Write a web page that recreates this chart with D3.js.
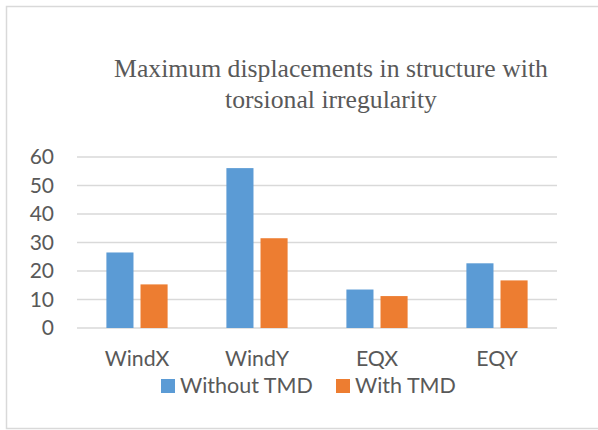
<!DOCTYPE html>
<html>
<head>
<meta charset="utf-8">
<script src="https://cdn.jsdelivr.net/npm/d3@7"></script>
<style>
  body { margin: 0; background: #fff; }
  text { fill: #595959; }
</style>
</head>
<body>
<div id="chart"></div>
<script>
// data
let categories = ["WindX", "WindY", "EQX", "EQY"];
let seriesNames = ["Without TMD", "With TMD"];
let withoutTMD = [26.5, 56.1, 13.5, 22.7];
let withTMD = [15.3, 31.5, 11.2, 16.7];
let yTicks = [0, 10, 20, 30, 40, 50, 60];
let colors = ["#5b9bd5", "#ed7d31"];

let W = 598, H = 430;
let margin = {top: 157, right: 41, bottom: 102, left: 77},
    width = W - margin.left - margin.right,
    height = H - margin.top - margin.bottom;

let root = d3.select("#chart").append("svg")
    .attr("width", W)
    .attr("height", H);

// chart area border
root.append("rect")
    .attr("x", 6.5).attr("y", 6.5)
    .attr("width", 600).attr("height", 422)
    .attr("fill", "#fff")
    .attr("stroke", "#d9d9d9")
    .attr("stroke-width", 1.5);

root.append("text")
    .attr("text-anchor", "middle")
    .attr("font-family", "Liberation Serif, Times New Roman, serif")
    .attr("font-size", 25.7)
    .selectAll("tspan")
    .data(["Maximum displacements in structure with", "torsional irregularity"])
    .enter().append("tspan")
    .attr("x", 331)
    .attr("y", function (d, i) { return 77 + i * 31; })
    .text(function (d) { return d; });

let svg = root.append("g")
    .attr("transform", "translate(" + margin.left + "," + margin.top + ")");

let x0 = d3.scaleBand()
    .domain(categories)
    .range([0, width])
    .paddingInner(0.49)
    .paddingOuter(0.245);

let x1 = d3.scaleBand()
    .domain(seriesNames)
    .range([0, x0.bandwidth()])
    .paddingInner(0.206);

let y = d3.scaleLinear()
    .domain([0, 60])
    .range([height, 0]);

// gridlines
svg.append("g")
    .selectAll("line")
    .data(yTicks)
    .enter().append("line")
    .attr("x1", 0).attr("x2", width)
    .attr("y1", function (d) { return y(d); })
    .attr("y2", function (d) { return y(d); })
    .attr("stroke", "#d9d9d9")
    .attr("stroke-width", 1.5);

let yAxis = d3.axisLeft(y).tickValues(yTicks).tickSize(0).tickPadding(23);
svg.append("g")
    .call(yAxis)
    .call(function (g) { g.select(".domain").remove(); })
    .selectAll("text")
    .attr("font-family", "Lato, Open Sans, sans-serif")
    .attr("font-size", 21)
    .attr("fill", "#595959");

let xAxis = d3.axisBottom(x0).tickSize(0).tickPadding(23);
svg.append("g")
    .attr("transform", "translate(0," + height + ")")
    .call(xAxis)
    .call(function (g) { g.select(".domain").remove(); })
    .selectAll("text")
    .attr("font-family", "Lato, Open Sans, sans-serif")
    .attr("font-size", 21.3)
    .attr("fill", "#595959");

let rows = categories.map(function (c, i) {
    return {cat: c, values: [withoutTMD[i], withTMD[i]]};
});

let groups = svg.selectAll(".grp")
    .data(rows)
    .enter().append("g")
    .attr("class", "grp")
    .attr("transform", function (d) { return "translate(" + x0(d.cat) + ",0)"; });

groups.selectAll("rect")
    .data(function (d) {
        return d.values.map(function (v, j) { return {s: seriesNames[j], v: v, j: j}; });
    })
    .enter().append("rect")
    .attr("x", function (d) { return x1(d.s); })
    .attr("width", x1.bandwidth())
    .attr("y", function (d) { return y(d.v); })
    .attr("height", function (d) { return height - y(d.v); })
    .attr("fill", function (d) { return colors[d.j]; });

// legend
let legend = root.append("g")
    .attr("font-family", "Lato, Open Sans, sans-serif")
    .attr("font-size", 21.5);
let legX = [161, 336];
seriesNames.forEach(function (name, i) {
    legend.append("rect")
        .attr("x", legX[i]).attr("y", 379)
        .attr("width", 14).attr("height", 14)
        .attr("fill", colors[i]);
    legend.append("text")
        .attr("x", legX[i] + 19).attr("y", 392.7)
        .text(name);
});
</script>
</body>
</html>
